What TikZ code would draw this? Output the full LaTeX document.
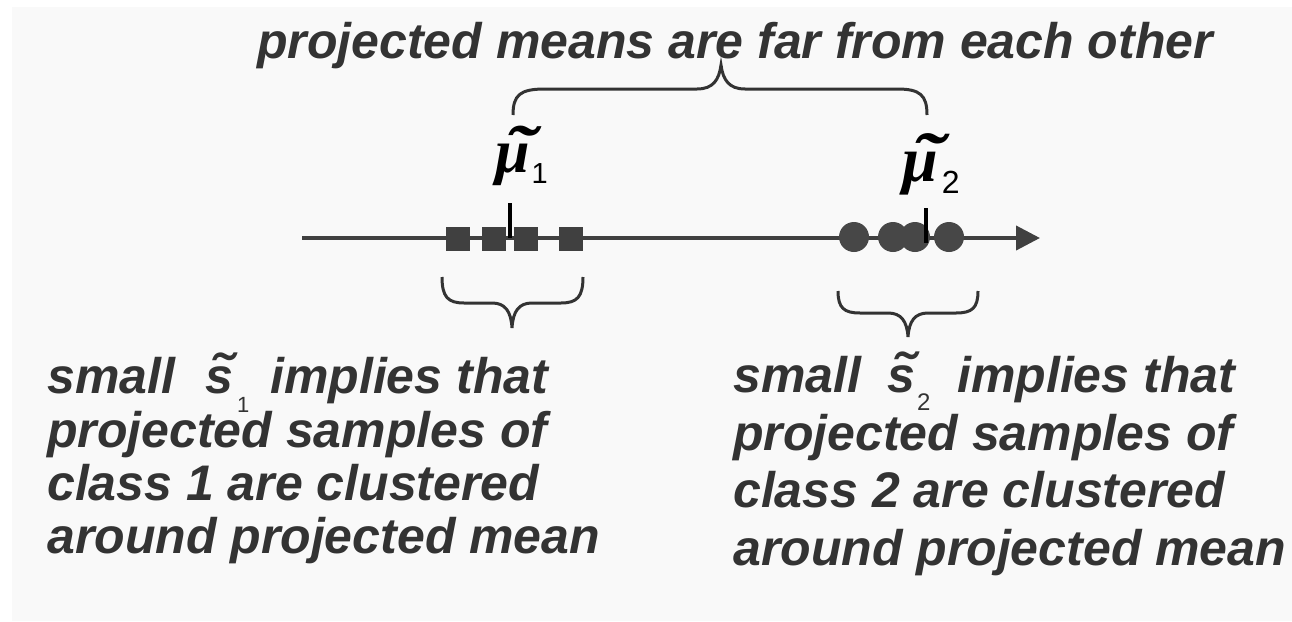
\documentclass[tikz,border=0pt]{standalone}
\usepackage{fontspec}
\usepackage{graphicx}
\setmainfont{Liberation Sans}
\newfontfamily\muserif{Liberation Serif}
\usetikzlibrary{arrows.meta}
\definecolor{bg}{HTML}{F9F9F9}
\definecolor{ink}{HTML}{333333}
\definecolor{axisc}{HTML}{404040}
\definecolor{dotc}{HTML}{474747}
\newcommand\stilde{\rlap{\kern0.10em\raisebox{0.02em}{\scalebox{1.25}[1.1]{\char"02DC}}}s}
\newcommand\mutilde{\rlap{\kern0.15em\raisebox{0.0em}{\scalebox{1.5}[1.1]{\char"02DC}}}μ}
\begin{document}
\begin{tikzpicture}[x=1pt,y=-1pt,
  txt/.style={anchor=base west, inner sep=0pt, text=ink, font=\fontsize{50}{50}\selectfont\bfseries\itshape},
  mulab/.style={anchor=base west, inner sep=0pt, text=black},
  sqbox/.style={fill=axisc, minimum size=24pt, inner sep=0pt, draw=none},
  dotbox/.style={circle, fill=dotc, minimum size=30pt, inner sep=0pt, draw=none},
  bracel/.style={draw=ink, line width=3pt},
  tickl/.style={draw=black, line width=4pt},
  axisl/.style={draw=axisc, line width=4pt, -{Triangle[length=24pt,width=24pt]}}]
\useasboundingbox (0,0) rectangle (1292,621);
\fill[white] (0,0) rectangle (1292,621);
\fill[bg] (12,7) rectangle (1292,621);

% title and top brace
\node[txt] (title) at (257,58) {projected means are far from each other};
\coordinate (tb1) at (513,115);
\coordinate (tb2) at (927,115);
\coordinate (tbt) at (721,65);
\draw[bracel] (tb1) .. controls (513,95) and (520,89) .. (545,89) -- (697,89)
  .. controls (713,89) and (719,80) .. (tbt)
  .. controls (723,80) and (729,89) .. (745,89) -- (897,89)
  .. controls (920,89) and (927,95) .. (tb2);

% axis
\coordinate (a0) at (302,238);
\coordinate (a1) at (1040,238);
\draw[axisl] (a0) -- (a1);

% class 1 samples
\node[sqbox] (q1) at (458,239) {};
\node[sqbox] (q2) at (494,239) {};
\node[sqbox] (q3) at (526,239) {};
\node[sqbox] (q4) at (571,239) {};
% class 2 samples
\node[dotbox] (d1) at (854,237) {};
\node[dotbox] (d2) at (893,237) {};
\node[dotbox] (d3) at (915,237) {};
\node[dotbox] (d4) at (949,237) {};

% mean ticks
\coordinate (m1t) at (510,203);
\coordinate (m1b) at (510,238);
\draw[tickl] (m1t) -- (m1b);
\coordinate (m2t) at (926,208);
\coordinate (m2b) at (926,243);
\draw[tickl] (m2t) -- (m2b);

% mean labels
\node[mulab, font=\fontsize{62}{62}\selectfont\muserif\bfseries\itshape] (mu1) at (495,172)
  {\mutilde\kern2pt\raisebox{-11pt}{\fontsize{29}{29}\selectfont\normalfont 1}};
\node[mulab, font=\fontsize{64}{64}\selectfont\muserif\bfseries\itshape] (mu2) at (902,181)
  {\mutilde\kern4pt\raisebox{-12pt}{\fontsize{32}{32}\selectfont\normalfont 2}};

% bottom braces
\coordinate (b1l) at (442,277);
\coordinate (b1r) at (583,277);
\coordinate (b1t) at (512,328);
\draw[bracel] (b1l) .. controls (442,297) and (448,303) .. (464,303) -- (492,303)
  .. controls (505,303) and (511,311) .. (b1t)
  .. controls (513,311) and (519,303) .. (532,303) -- (561,303)
  .. controls (577,303) and (583,297) .. (b1r);
\coordinate (b2l) at (838,291);
\coordinate (b2r) at (978,291);
\coordinate (b2t) at (908,337);
\draw[bracel] (b2l) .. controls (838,308) and (844,313) .. (860,313) -- (888,313)
  .. controls (901,313) and (907,321) .. (b2t)
  .. controls (909,321) and (915,313) .. (928,313) -- (956,313)
  .. controls (972,313) and (978,308) .. (b2r);

% left text
\node[txt] (l1a) at (47,393) {small};
\node[txt] (l1s) at (205,393)
  {\stilde\kern4pt\raisebox{-19pt}{\fontsize{22}{22}\selectfont\normalfont 1}};
\node[txt] (l1b) at (270,393) {implies that};
\node[txt] (l2) at (47,447) {projected samples of};
\node[txt] (l3) at (47,500) {class 1 are clustered};
\node[txt] (l4) at (47,553) {around projected mean};

% right text
\node[txt] (r1a) at (733,392) {small};
\node[txt] (r1s) at (887,392)
  {\stilde\kern2pt\raisebox{-18pt}{\fontsize{24}{24}\selectfont\normalfont 2}};
\node[txt] (r1b) at (957,392) {implies that};
\node[txt] (r2) at (733,450) {projected samples of};
\node[txt] (r3) at (733,507) {class 2 are clustered};
\node[txt] (r4) at (733,565) {around projected mean};
\end{tikzpicture}
\end{document}
